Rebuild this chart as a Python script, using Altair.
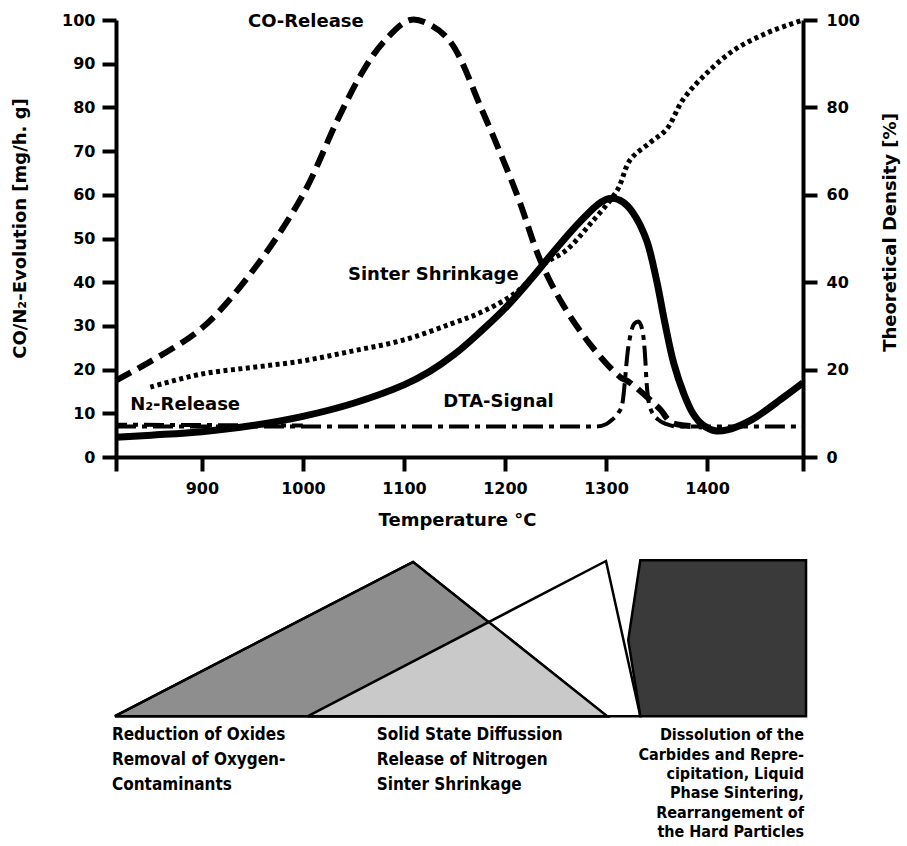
import altair as alt
import pandas as pd

# ---------------- data ----------------
T_MIN, T_MAX = 815, 1495

co_T = [815, 850, 900, 950, 1000, 1035, 1060, 1080, 1106, 1125, 1146, 1178, 1212, 1235, 1257, 1287, 1314, 1322, 1344, 1354, 1364, 1378, 1395]
co_v = [17.5, 22, 29.5, 42.5, 60, 77.5, 88.5, 95, 100, 99, 95, 79, 60, 45, 35, 25, 18.3, 17.3, 13, 10.8, 8, 7.2, 7]

shrink_T = [815, 850, 900, 950, 1000, 1050, 1100, 1125, 1150, 1175, 1200, 1225, 1250, 1275, 1295, 1306, 1317, 1327, 1340, 1350, 1358, 1367, 1377, 1386, 1396, 1408, 1420, 1444, 1476, 1495]
shrink_v = [4.5, 5, 5.8, 7.2, 9.3, 12.3, 16.5, 19.5, 23.5, 28.5, 34, 40.5, 47.5, 54, 58.3, 59.2, 58.3, 55.8, 49.7, 40.5, 31, 21.5, 14.5, 10, 7.3, 6, 6.2, 8.5, 13.7, 17]

dens_T = [849, 900, 950, 1000, 1050, 1100, 1147, 1180, 1213, 1238, 1261, 1285, 1311, 1324, 1344, 1360, 1376, 1396, 1426, 1459, 1495]
dens_v = [16, 19, 20.5, 22, 24.3, 26.8, 30.5, 33.5, 38, 44, 47.4, 53.5, 61, 68, 72, 75, 81.7, 87, 93, 97, 100]

dta_T = [815, 1290, 1300, 1306, 1312, 1316, 1322, 1328, 1332, 1336, 1339, 1340, 1342, 1345, 1352, 1360, 1370, 1495]
dta_v = [7, 7, 7.5, 8.5, 10, 12, 25, 30.5, 31, 29, 22, 17.6, 13, 10.5, 8.5, 7.5, 7, 7]

n2_T = [815, 1000]
n2_v = [7.4, 7.2]

curve_labels = ["CO-Release", "Sinter Shrinkage", "N\u2082-Release", "DTA-Signal"]
curve_label_T = [945.6, 1044.6, 829, 1139]
curve_label_v = [99.5, 41.6, 11.9, 12.6]

# process-stage diagram (temperature / chart units)
base_v = -59.3
tri1_T = [814, 1109, 1301]
tri1_top = [base_v, -24.0, base_v]
overlap_T = [1005, 1184, 1301]
overlap_top = [base_v, -37.8, base_v]
tri2_T = [1005, 1300, 1334]
tri2_top = [base_v, -23.8, base_v]
quad_v = [base_v, -41.9, -23.6]
quad_left = [1334, 1322, 1334]
quad_right = [1498, 1498, 1498]

stage1_lines = ["Reduction of Oxides", "Removal of Oxygen-", "Contaminants"]
stage2_lines = ["Solid State Diffussion", "Release of Nitrogen", "Sinter Shrinkage"]
stage12_v = [-63.6, -69.3, -75.1]
stage1_T = 811
stage2_T = 1073
stage3_lines = ["Dissolution of the", "Carbides and Repre-", "cipitation, Liquid",
                "Phase Sintering,", "Rearrangement of", "the Hard Particles"]
stage3_v = [-63.6, -68.1, -72.5, -77.0, -81.4, -85.9]
stage3_T = 1496

x_ticks = [815, 900, 1000, 1100, 1200, 1300, 1400, 1495]
left_ticks = list(range(0, 101, 10))
right_ticks = list(range(0, 101, 20))

FONT = "DejaVu Sans"
TXT_FONT = "DejaVu Sans Condensed"

# ---------------- encodings ----------------
x_axis = alt.Axis(
    title="Temperature \u00b0C", values=x_ticks, format="d",
    labelExpr="(datum.value < 850 || datum.value > 1450) ? '' : datum.label",
    labelPadding=9, titleX=341, titleY=63, titleBaseline="middle",
    titleAlign="center", titleFontSize=18,
)


def X(field):
    return alt.X(f"{field}:Q", scale=alt.Scale(domain=[T_MIN, T_MAX], nice=False, zero=False),
                 axis=x_axis)


def Y(field, axis=None):
    return alt.Y(f"{field}:Q", scale=alt.Scale(domain=[0, 100], nice=False, zero=False),
                 axis=axis)


left_axis = alt.Axis(
    title="CO/N\u2082-Evolution [mg/h. g]", values=left_ticks, orient="left", format="d",
    labelPadding=7, titleX=-96, titleY=208, titleAngle=270,
    titleBaseline="middle", titleAlign="center", titleFontSize=18,
)
right_axis = alt.Axis(
    title="Theoretical Density [%]", values=right_ticks, orient="right", format="d",
    labelPadding=9, titleX=87, titleY=212, titleAngle=270,
    titleBaseline="middle", titleAlign="center", titleFontSize=18,
)

co_df = pd.DataFrame({"T": co_T, "v": co_v})
shrink_df = pd.DataFrame({"T": shrink_T, "v": shrink_v})
dens_df = pd.DataFrame({"T": dens_T, "v": dens_v})
dta_df = pd.DataFrame({"T": dta_T, "v": dta_v})
n2_df = pd.DataFrame({"T": n2_T, "v": n2_v})

co_line = alt.Chart(co_df).mark_line(
    interpolate="catmull-rom", color="black", strokeWidth=6, strokeDash=[17, 8]
).encode(x=X("T"), y=Y("v", left_axis))

dens_line = alt.Chart(dens_df).mark_line(
    interpolate="catmull-rom", color="black", strokeWidth=5, strokeDash=[4, 3.5]
).encode(x=X("T"), y=Y("v", right_axis))

dta_line = alt.Chart(dta_df).mark_line(
    interpolate="monotone", color="black", strokeWidth=4, strokeDash=[20, 6, 5, 6]
).encode(x=X("T"), y=Y("v"))

n2_line = alt.Chart(n2_df).mark_line(
    color="black", strokeWidth=4, strokeDash=[20, 6, 5, 6], strokeDashOffset=9
).encode(x=X("T"), y=Y("v"))

shrink_line = alt.Chart(shrink_df).mark_line(
    interpolate="catmull-rom", color="black", strokeWidth=7
).encode(x=X("T"), y=Y("v"))

labels_df = pd.DataFrame({"T": curve_label_T, "v": curve_label_v, "t": curve_labels})
curve_text = alt.Chart(labels_df).mark_text(
    align="left", baseline="middle", font=FONT, fontWeight="bold", fontSize=18, color="black"
).encode(x=X("T"), y=Y("v"), text="t:N")

# ---------------- stage diagram ----------------
tri1_df = pd.DataFrame({"T": tri1_T, "top": tri1_top, "base": [base_v] * 3})
overlap_df = pd.DataFrame({"T": overlap_T, "top": overlap_top, "base": [base_v] * 3})
tri2_df = pd.DataFrame({"T": tri2_T, "top": tri2_top, "base": [base_v] * 3})
quad_df = pd.DataFrame({"v": quad_v, "left": quad_left, "right": quad_right})

tri1_fill = alt.Chart(tri1_df).mark_area(
    color="#8e8e8e", stroke="black", strokeWidth=2.5, interpolate="linear"
).encode(x=X("T"), y=Y("top"), y2="base:Q")

overlap_fill = alt.Chart(overlap_df).mark_area(
    color="#c9c9c9", interpolate="linear"
).encode(x=X("T"), y=Y("top"), y2="base:Q")

tri2_outline = alt.Chart(tri2_df).mark_area(
    fill="white", fillOpacity=0, stroke="black", strokeWidth=2.5, interpolate="linear"
).encode(x=X("T"), y=Y("top"), y2="base:Q")

tri1_outline = alt.Chart(tri1_df).mark_area(
    fill="white", fillOpacity=0, stroke="black", strokeWidth=2.5, interpolate="linear"
).encode(x=X("T"), y=Y("top"), y2="base:Q")

quad_fill = alt.Chart(quad_df).mark_area(
    orient="horizontal", color="#3a3a3a", stroke="black", strokeWidth=2.5, interpolate="linear"
).encode(y=Y("v"), x=X("left"), x2="right:Q")

s1_df = pd.DataFrame({"t": stage1_lines, "v": stage12_v, "T": [stage1_T] * 3})
s2_df = pd.DataFrame({"t": stage2_lines, "v": stage12_v, "T": [stage2_T] * 3})
s3_df = pd.DataFrame({"t": stage3_lines, "v": stage3_v, "T": [stage3_T] * 6})

txt_kw = dict(baseline="middle", font=TXT_FONT, fontWeight="bold", color="black")
s1_text = alt.Chart(s1_df).mark_text(align="left", fontSize=17, **txt_kw).encode(x=X("T"), y=Y("v"), text="t:N")
s2_text = alt.Chart(s2_df).mark_text(align="left", fontSize=17, **txt_kw).encode(x=X("T"), y=Y("v"), text="t:N")
s3_text = alt.Chart(s3_df).mark_text(align="right", fontSize=16, **txt_kw).encode(x=X("T"), y=Y("v"), text="t:N")

chart = alt.layer(
    co_line, dens_line, dta_line, n2_line, shrink_line, curve_text,
    tri1_fill, overlap_fill, tri2_outline, tri1_outline, quad_fill,
    s1_text, s2_text, s3_text,
).resolve_scale(y="independent").resolve_axis(y="independent").properties(
    width=687, height=437,
    padding={"left": 116, "top": 20, "right": 104, "bottom": 389},
    autosize=alt.AutoSizeParams(type="none"),
    background="white",
).configure_view(stroke=None).configure_axis(
    domainColor="black", tickColor="black", labelColor="black", titleColor="black",
    labelFont=FONT, titleFont=FONT, labelFontWeight="bold", titleFontWeight="bold",
    grid=False, domainWidth=4, tickWidth=4, tickSize=14, labelFontSize=16,
)

chart.save("out.html", embed_options={"renderer": "svg", "actions": False})
